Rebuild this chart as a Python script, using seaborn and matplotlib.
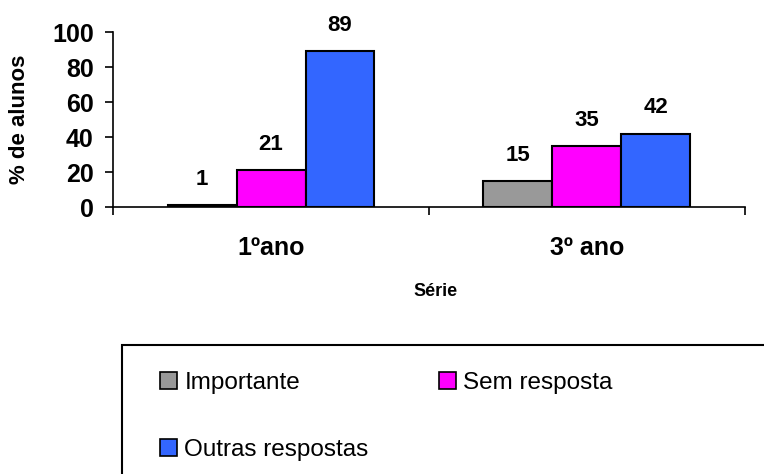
import matplotlib
matplotlib.use("Agg")
import matplotlib.pyplot as plt
from matplotlib.patches import Rectangle
import seaborn as sns
import pandas as pd

# Survey answers by school year (% of students)
series = ["1ºano", "3º ano"]
answers = ["Importante", "Sem resposta", "Outras respostas"]
importante = [1, 15]
sem_resposta = [21, 35]
outras_respostas = [89, 42]
colors = ["#999999", "#FF00FF", "#3366FF"]

rows = []
for i, s in enumerate(series):
    for name, vals in zip(answers, [importante, sem_resposta, outras_respostas]):
        rows.append({"Série": s, "Resposta": name, "valor": vals[i]})
df = pd.DataFrame(rows)

sns.set_style("white")
plt.rcParams["font.family"] = ["Liberation Sans", "DejaVu Sans"]
plt.rcParams.update({"text.color": "black", "axes.labelcolor": "black",
                     "xtick.color": "black", "ytick.color": "black"})

fig = plt.figure(figsize=(7.64, 4.74), dpi=100)
ax = fig.add_axes([0.148, 0.563, 0.827, 0.369])

sns.barplot(data=df, x="Série", y="valor", hue="Resposta", order=series,
            hue_order=answers, palette=colors, width=0.655, edgecolor="black",
            linewidth=1.5, saturation=1, legend=False, ax=ax)

# value labels above each bar
for cont in ax.containers:
    for bar in cont:
        h = bar.get_height()
        ax.annotate(f"{h:g}", (bar.get_x() + bar.get_width() / 2, h),
                    xytext=(0, 11), textcoords="offset points",
                    ha="center", va="bottom", fontsize=16, fontweight="bold")

ax.set_xlim(-0.5, 1.5)
ax.set_ylim(0, 100)
ax.set_yticks([0, 20, 40, 60, 80, 100])
ax.tick_params(axis="y", which="major", direction="out", length=6, width=1.2,
               left=True, labelsize=18, pad=8)
for lab in ax.get_yticklabels():
    lab.set_fontweight("bold")

ax.set_xticks([0, 1])
ax.set_xticklabels(series, fontsize=18, fontweight="bold")
ax.set_xticks([-0.5, 0.5, 1.5], minor=True)
ax.tick_params(axis="x", which="major", length=0, pad=21)
ax.tick_params(axis="x", which="minor", direction="out", length=6, width=1.2,
               bottom=True)

ax.set_ylabel("% de alunos", fontsize=16, fontweight="bold")
ax.set_xlabel("Série", fontsize=13, fontweight="bold")
ax.yaxis.set_label_coords((30 - 113) / 632, 0.5)
ax.xaxis.set_label_coords((436 - 113) / 632, (207 - 283) / 175)

for side in ["top", "right"]:
    ax.spines[side].set_visible(False)
for side in ["left", "bottom"]:
    ax.spines[side].set_color("black")
    ax.spines[side].set_linewidth(1.2)

# legend frame running off the right and bottom edges
fig.patches.append(Rectangle((122 / 764, -0.2), 1.0, 0.2 + 1 - 345 / 474,
                             transform=fig.transFigure, fill=False,
                             edgecolor="black", linewidth=1.5))

handles = [Rectangle((0, 0), 1, 1, facecolor=c, edgecolor="black", linewidth=1.2)
           for c in colors]
order = [0, 2, 1]
fig.legend([handles[i] for i in order], [answers[i] for i in order],
           ncol=2, frameon=False, fontsize=17.5, loc="upper left",
           bbox_to_anchor=(160 / 764, 1 - 372 / 474),
           borderpad=0, borderaxespad=0,
           handlelength=0.7, handleheight=0.7, handletextpad=0.3,
           labelspacing=1.85, columnspacing=2.9)

fig.savefig("out.png", dpi=100)
